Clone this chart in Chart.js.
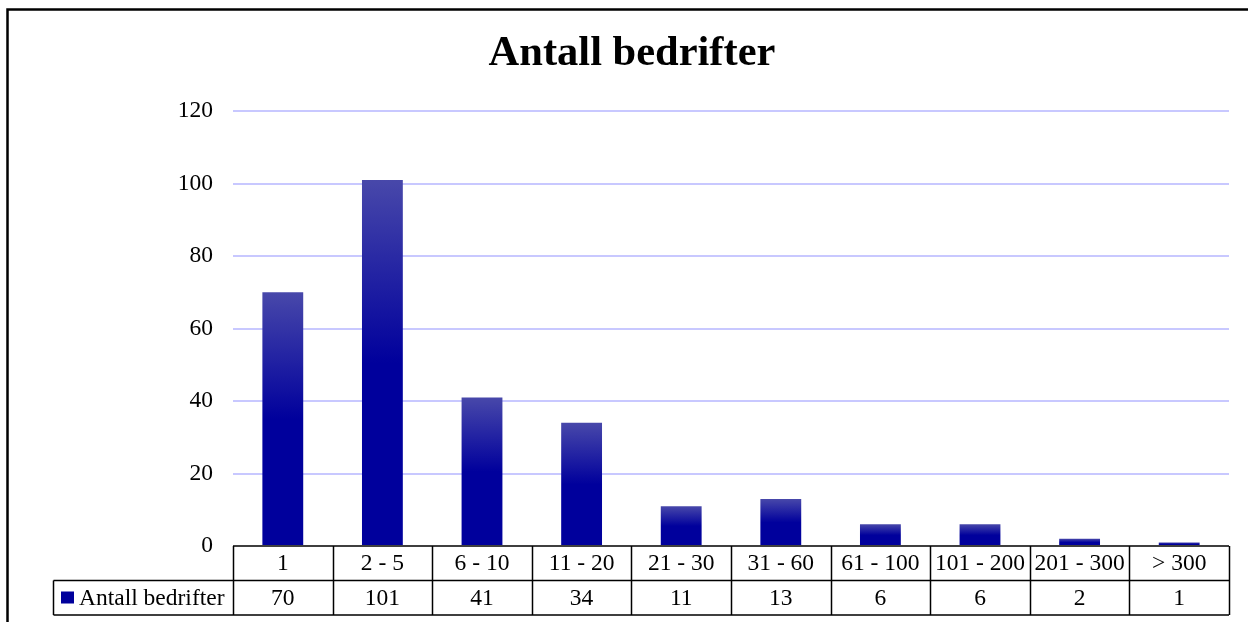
<!DOCTYPE html>
<html>
<head>
<meta charset="utf-8">
<script src="https://cdn.jsdelivr.net/npm/chart.js@4"></script>
<style>
  html, body { margin: 0; padding: 0; background: #fff; }
  canvas { display: block; }
</style>
</head>
<body>
<canvas id="chart" width="1248" height="622"></canvas>
<script>
const chartTitle = "Antall bedrifter";
const seriesName = "Antall bedrifter";
const categories = ["1", "2 - 5", "6 - 10", "11 - 20", "21 - 30", "31 - 60", "61 - 100", "101 - 200", "201 - 300", "> 300"];
const values = [70, 101, 41, 34, 11, 13, 6, 6, 2, 1];
const yMax = 120;
const yStep = 20;

const serif = '"Liberation Serif", "Times New Roman", serif';
const lightBlue = "#4848aa";
const darkBlue = "#00009c";

// Gradient per bar: lighter at the top, full dark blue from the middle down
function barGradient(context) {
    const chart = context.chart;
    if (!chart.chartArea || context.type !== "data") return darkBlue;
    const yScale = chart.scales.y;
    const top = yScale.getPixelForValue(context.parsed.y);
    const base = yScale.getPixelForValue(0);
    if (!isFinite(top) || base - top < 1) return lightBlue;
    const g = chart.ctx.createLinearGradient(0, top, 0, base);
    g.addColorStop(0, lightBlue);
    g.addColorStop(0.5, darkBlue);
    g.addColorStop(1, darkBlue);
    return g;
}

// Outer frame + data table under the plot
const tablePlugin = {
    id: "dataTable",
    beforeDraw(chart) {
        const ctx = chart.ctx;
        ctx.save();
        ctx.strokeStyle = "#000";
        ctx.lineWidth = 2.5;
        ctx.strokeRect(7.5, 9.5, chart.width + 20, chart.height + 20);
        ctx.restore();
    },
    afterDraw(chart) {
        const ctx = chart.ctx;
        const area = chart.chartArea;
        const x = chart.scales.x;
        const rowH = 34.5;
        const y0 = area.bottom;
        const y1 = y0 + rowH;
        const y2 = y1 + rowH;
        const legendLeft = 53.5;

        // column edges
        const edges = [area.left];
        for (let i = 0; i < categories.length - 1; i++) {
            edges.push((x.getPixelForValue(i) + x.getPixelForValue(i + 1)) / 2);
        }
        edges.push(area.right);

        ctx.save();
        ctx.strokeStyle = "#000";
        ctx.lineWidth = 1.5;
        ctx.beginPath();
        ctx.moveTo(area.left, y0);
        ctx.lineTo(area.right, y0);
        ctx.moveTo(legendLeft, y1);
        ctx.lineTo(area.right, y1);
        ctx.moveTo(legendLeft, y2);
        ctx.lineTo(area.right, y2);
        ctx.moveTo(legendLeft, y1);
        ctx.lineTo(legendLeft, y2);
        edges.forEach((e) => {
            ctx.moveTo(Math.round(e) + 0.5, y0);
            ctx.lineTo(Math.round(e) + 0.5, y2);
        });
        ctx.stroke();

        ctx.fillStyle = "#000";
        ctx.font = "23.5px " + serif;
        ctx.textAlign = "center";
        ctx.textBaseline = "middle";
        categories.forEach((c, i) => {
            const cx = x.getPixelForValue(i);
            ctx.fillText(c, cx, y0 + rowH / 2 + 1);
            ctx.fillText(String(values[i]), cx, y1 + rowH / 2 + 1);
        });

        // legend key
        ctx.fillStyle = darkBlue;
        ctx.fillRect(61, y1 + 11, 13, 12);
        ctx.fillStyle = "#000";
        ctx.textAlign = "left";
        ctx.fillText(seriesName, 79, y1 + rowH / 2 + 1);
        ctx.restore();
    }
};

new Chart(document.getElementById("chart"), {
    type: "bar",
    data: {
        labels: categories,
        datasets: [{
            label: seriesName,
            data: values,
            backgroundColor: barGradient,
            borderWidth: 0,
            categoryPercentage: 1,
            barPercentage: 0.41
        }]
    },
    options: {
        responsive: false,
        animation: false,
        devicePixelRatio: 1,
        layout: { padding: { left: 35, right: 19, top: 0, bottom: 76 } },
        scales: {
            x: { display: false },
            y: {
                min: 0,
                max: yMax,
                afterFit(scale) { scale.width = 198; },
                ticks: {
                    stepSize: yStep,
                    color: "#000",
                    font: { family: serif, size: 23.5 },
                    padding: 20
                },
                grid: {
                    color: (c) => (c.tick && c.tick.value === 0 ? "rgba(0,0,0,0)" : "#c8c8ff"),
                    lineWidth: 2,
                    drawTicks: false
                },
                border: { display: false }
            }
        },
        plugins: {
            legend: { display: false },
            tooltip: { enabled: false },
            title: {
                display: true,
                text: chartTitle,
                color: "#000",
                font: { family: serif, size: 42.5, weight: "bold", lineHeight: 1.2 },
                padding: { top: 29, bottom: 31 }
            }
        }
    },
    plugins: [tablePlugin]
});
</script>
</body>
</html>
